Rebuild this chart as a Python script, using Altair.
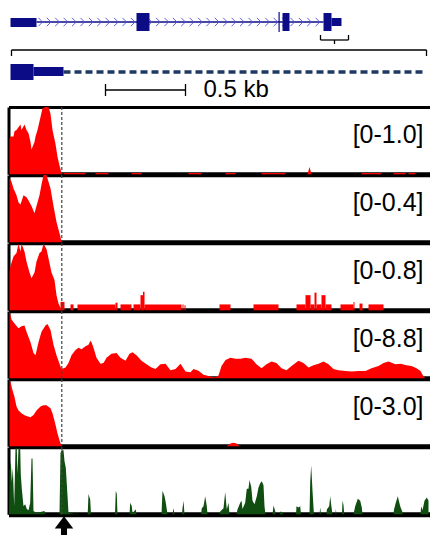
import altair as alt
import pandas as pd

# ---------------- data (x = bin index, 1 bin ~ 6.25 bp; 80 bins = 0.5 kb) ----------------
tss_pos = [53.3]
arrow_pos = [55.5]

# gene model (overview) + zoomed model, rows in pixel-like units (0 = top)
exon_start = [2, 128, 270, 274, 315, 323, 2, 25]
exon_end = [28, 141, 271.2, 281, 323, 333, 25, 55]
exon_top = [18, 13, 12, 13, 13, 18, 64, 67]
exon_bottom = [27, 31, 32, 31, 31, 26, 80, 76]
intron_start = [28]
intron_end = [315]
intron_row = [22]

seg_x1 = [312, 312, 340, 326, 3, 3, 418, 97, 97, 177]
seg_x2 = [340, 312, 340, 326, 418, 3, 418, 177, 97, 177]
seg_y1 = [40, 35, 35, 40, 50, 50, 50, 90, 84, 84]
seg_y2 = [40, 40, 40, 44, 50, 56, 56, 90, 96, 96]

dash_start = [55]
dash_end = [418]
dash_row = [72]
scale_label = ["0.5 kb"]
scale_label_pos = [195]
scale_label_row = [97]

# track 1 [0-1.0]
t1_pos = [1, 2, 5, 6, 8, 12, 13, 16, 18, 20, 22, 23, 26, 27, 29, 32, 34, 37, 40, 42, 44, 47, 49, 51, 53, 54,
          299, 301, 303]
t1_val = [0.53, 0.56, 0.56, 0.64, 0.66, 0.74, 0.66, 0.74, 0.66, 0.61, 0.48, 0.37, 0.48, 0.56, 0.66, 0.85, 0.98,
          1.0, 1.0, 0.9, 0.66, 0.45, 0.26, 0.13, 0.02, 0, 0, 0.11, 0]
t1_bs = [55, 87, 123, 180, 217, 253, 353, 385, 400]
t1_be = [77, 100, 133, 193, 227, 277, 373, 397, 407]
t1_bv = [0.02] * 9

# track 2 [0-0.4]
t2_pos = [1, 3, 5, 8, 10, 12, 15, 18, 20, 23, 26, 28, 31, 33, 35, 38, 42, 45, 48, 52, 53]
t2_val = [0.38, 0.36, 0.32, 0.28, 0.236, 0.224, 0.28, 0.268, 0.248, 0.216, 0.172, 0.216, 0.28, 0.344, 0.4, 0.4,
          0.32, 0.216, 0.12, 0.032, 0]

# track 3 [0-0.8]
t3_pos = [1, 2, 5, 8, 10, 12, 13, 16, 18, 21, 23, 26, 28, 31, 33, 35, 38, 40, 43, 46, 48, 50, 52, 53]
t3_val = [0.46, 0.53, 0.64, 0.68, 0.79, 0.70, 0.79, 0.70, 0.58, 0.45, 0.38, 0.45, 0.58, 0.68, 0.70, 0.79, 0.73,
          0.62, 0.45, 0.36, 0.18, 0.08, 0.03, 0]
t3_bs = [52, 62, 69, 107, 112, 125, 132, 134.5, 136, 174, 176, 211, 245, 288, 297, 302, 306, 308, 313, 317, 332,
         345, 351, 360]
t3_be = [56, 65, 107, 109, 123, 132, 135, 136, 173, 175, 177, 222, 270, 297, 302, 306, 308, 313, 317, 323, 345,
         346, 354, 375]
t3_bv = [0.10, 0.07, 0.07, 0.09, 0.07, 0.07, 0.18, 0.22, 0.07, 0.07, 0.06, 0.07, 0.07, 0.07, 0.18, 0.07, 0.21,
         0.07, 0.18, 0.07, 0.07, 0.10, 0.08, 0.07]

# track 4 [0-8.8]
t4_pos = [1, 3, 7, 10, 13, 16, 18, 22, 25, 27, 30, 33, 37, 39, 42, 45, 48, 51, 53, 57, 60, 63, 67, 70, 73, 77,
          80, 82, 83, 85, 88, 92, 95, 98, 103, 108, 112, 117, 121, 124, 128, 133, 138, 143, 147, 152, 157, 162,
          167, 172, 177, 182, 185, 190, 195, 202, 207, 210, 213, 217, 222, 227, 232, 237, 243, 248, 253, 258,
          263, 268, 273, 278, 283, 290, 295, 300, 305, 310, 315, 320, 325, 330, 337, 343, 350, 357, 363, 370,
          375, 380, 387, 392, 398, 403, 408, 412, 415, 417]
t4_val = [8.8, 7.7, 7.0, 6.55, 6.8, 6.9, 6.1, 4.7, 3.3, 3.0, 4.7, 6.1, 6.9, 7.1, 6.3, 4.4, 3.0, 1.9, 1.2, 1.4,
          2.0, 3.0, 3.7, 4.0, 3.8, 4.2, 4.4, 4.9, 4.7, 4.0, 2.7, 1.9, 2.0, 2.7, 3.2, 3.3, 2.7, 2.3, 3.2, 3.4, 3.0,
          2.3, 1.85, 1.4, 1.2, 1.85, 1.9, 1.05, 1.2, 1.9, 0.9, 0.8, 1.2, 1.0, 0.45, 0.25, 0.1, 0.35, 1.6, 2.4,
          2.7, 2.55, 2.55, 2.7, 2.55, 1.85, 1.3, 1.85, 2.2, 2.0, 1.3, 1.05, 1.6, 2.3, 2.0, 1.4, 1.7, 1.9, 2.2,
          1.85, 1.2, 1.05, 0.95, 0.9, 0.95, 0.95, 1.3, 1.6, 2.0, 2.2, 1.85, 1.9, 1.7, 1.6, 1.3, 0.95, 0.25, 0]

# track 5 [0-3.0]
t5_pos = [1, 2, 4, 6, 8, 10, 13, 16, 18, 22, 25, 28, 32, 35, 38, 42, 44, 47, 49, 51, 53,
          218, 222, 225, 228, 231]
t5_val = [2.97, 2.85, 2.5, 2.2, 1.77, 1.6, 1.47, 1.38, 1.35, 1.3, 1.4, 1.6, 1.77, 1.83, 1.83, 1.7, 1.47, 0.96,
          0.57, 0.27, 0, 0, 0.12, 0.16, 0.12, 0]

# track 6 (green, conservation-like)
t6_pos = [0.5, 1, 2.3, 3.3, 4.3, 5.7, 7, 8.3, 9, 10, 11.7, 12.3, 13.3, 15, 16.7, 18.3, 20, 21.7, 23, 24, 25, 28,
          36, 37, 51, 52, 53, 55, 56, 57.3, 58.5, 59.3, 60, 68, 68.3, 69, 79, 79.3, 80, 81.7, 82.5,
          106.5, 107.3, 108.3, 109, 121, 121.7, 123.3, 124, 127.3, 128, 153, 154, 156, 157.3, 158.3, 159,
          164, 165, 166, 173.5, 174, 175, 176, 192.5, 193.3, 195, 196.7, 198.3, 199,
          211, 211.7, 215, 216.7, 218.3, 220, 221, 228, 229, 231.7, 233, 234, 236.7, 238.3, 240, 241, 242.7,
          244, 246, 248.3, 250, 251.7, 253.3, 255, 256, 257, 264, 265, 266.7, 267, 271, 272, 274, 275,
          287.5, 288, 290, 291.7, 292.5, 301, 301.7, 302.7, 304, 305, 305.5, 311, 311.7, 312.5,
          318, 318.3, 320.7, 321.7, 323.3, 324, 327, 327.3, 328, 333.5, 334, 335, 335.7,
          345, 346.7, 349.3, 351.7, 353.3, 354, 385, 385.5, 387.3, 389.3, 391.7, 394, 394.5,
          412, 412.7, 414, 416, 418.3, 420]
t6_val = [0, 0.64, 0.80, 0.48, 0.69, 0.12, 0.98, 0.98, 0.6, 0.98, 0.98, 0.59, 0.38, 0.12, 0.15, 0.08, 0.06, 0.17,
          0.83, 0.83, 0.05, 0.02, 0.05, 0, 0, 0.91, 0.95, 0.95, 0.79, 0.69, 0.4, 0.2, 0.02, 0, 0.04, 0, 0, 0.04,
          0.30, 0.22, 0, 0, 0.35, 0.30, 0, 0, 0.17, 0.12, 0.02, 0.07, 0, 0, 0.35, 0.27, 0.17, 0.07, 0,
          0, 0.09, 0, 0, 0.09, 0.2, 0, 0, 0.09, 0.12, 0.27, 0.12, 0,
          0, 0.04, 0.09, 0.33, 0.07, 0.17, 0, 0, 0.07, 0.17, 0.2, 0.08, 0.17, 0.38, 0.38, 0.51, 0.41,
          0.2, 0.15, 0.27, 0.40, 0.46, 0.49, 0.43, 0.12, 0, 0, 0.13, 0.05, 0, 0, 0.04, 0.03, 0,
          0, 0.12, 0.1, 0.12, 0, 0, 0.48, 0.73, 0.35, 0.1, 0, 0, 0.1, 0,
          0, 0.07, 0.12, 0.27, 0.07, 0, 0, 0.08, 0, 0, 0.2, 0.14, 0,
          0, 0.12, 0.23, 0.2, 0.1, 0, 0, 0.07, 0.17, 0.27, 0.12, 0.03, 0,
          0, 0.12, 0.06, 0.2, 0.25, 0.2]

# ---------------- styling ----------------
W = 421
GENE_H = 107
TRACK_H = 67.3
ARROW_H = 24
RED = "#ff0000"
GREEN = "#104d10"
NAVY = "#0c0c86"
FONT = "Liberation Sans"

XS = alt.Scale(domain=[0, W], nice=False, zero=False)
XAX = alt.Axis(labels=False, ticks=False, grid=False, title=None, domainColor="black", domainWidth=5)
YAX = alt.Axis(labels=False, ticks=False, grid=False, title=None, domainColor="black", domainWidth=3)
GXAX = alt.Axis(labels=False, ticks=False, grid=False, title=None, domainColor="black", domainWidth=3)

# ---------------- gene panel ----------------
GYS = alt.Scale(domain=[0, GENE_H], reverse=True, nice=False, zero=False)

intron = alt.Chart(pd.DataFrame({"s": intron_start, "e": intron_end, "r": intron_row})).mark_rule(
    color=NAVY, strokeWidth=1.5).encode(
    x=alt.X("s:Q", scale=XS, axis=GXAX), x2="e:Q", y=alt.Y("r:Q", scale=GYS, axis=None))

chev = alt.Chart(alt.sequence(32, 314, 8.4, as_="pos")).mark_point(
    shape="M-0.5,-1L0.5,0L-0.5,1", filled=False, size=70, strokeWidth=1, color="#5050e0", opacity=0.9).encode(
    x=alt.X("pos:Q", scale=XS, axis=GXAX), y=alt.Y(datum=22, scale=GYS, axis=None))

exons = alt.Chart(pd.DataFrame({"s": exon_start, "e": exon_end, "t": exon_top, "b": exon_bottom})).mark_rect(
    color=NAVY).encode(
    x=alt.X("s:Q", scale=XS, axis=GXAX), x2="e:Q",
    y=alt.Y("t:Q", scale=GYS, axis=None), y2="b:Q")

segs = alt.Chart(pd.DataFrame({"x1": seg_x1, "x2": seg_x2, "y1": seg_y1, "y2": seg_y2})).mark_rule(
    color="black", strokeWidth=1.3).encode(
    x=alt.X("x1:Q", scale=XS, axis=GXAX), x2="x2:Q",
    y=alt.Y("y1:Q", scale=GYS, axis=None), y2="y2:Q")

dashed = alt.Chart(pd.DataFrame({"s": dash_start, "e": dash_end, "r": dash_row})).mark_rule(
    color="#203864", strokeWidth=3.5, strokeDash=[7, 4]).encode(
    x=alt.X("s:Q", scale=XS, axis=GXAX), x2="e:Q", y=alt.Y("r:Q", scale=GYS, axis=None))

sc_text = alt.Chart(pd.DataFrame({"t": scale_label, "p": scale_label_pos, "r": scale_label_row})).mark_text(
    align="left", baseline="alphabetic", fontSize=24, font=FONT, color="black").encode(
    x=alt.X("p:Q", scale=XS, axis=GXAX), y=alt.Y("r:Q", scale=GYS, axis=None), text="t:N")

gene_panel = alt.layer(intron, chev, exons, segs, dashed, sc_text).properties(width=W, height=GENE_H)


# ---------------- tracks ----------------
def track(pos, val, ymax, label, color, bs=None, be=None, bv=None):
    ys = alt.Scale(domain=[0, ymax], nice=False, zero=True)
    layers = []
    area = alt.Chart(pd.DataFrame({"pos": pos, "val": val})).mark_area(
        color=color, interpolate="linear").encode(
        x=alt.X("pos:Q", scale=XS, axis=XAX), y=alt.Y("val:Q", scale=ys, axis=YAX))
    layers.append(area)
    if bs is not None:
        blocks = alt.Chart(pd.DataFrame({"s": bs, "e": be, "v": bv})).mark_rect(color=color).encode(
            x=alt.X("s:Q", scale=XS, axis=XAX), x2="e:Q",
            y=alt.Y("v:Q", scale=ys, axis=YAX), y2=alt.Y2(datum=0))
        layers.append(blocks)
    tss = alt.Chart(pd.DataFrame({"pos": tss_pos})).mark_rule(
        color="#444444", strokeWidth=1.2, strokeDash=[3, 2]).encode(
        x=alt.X("pos:Q", scale=XS, axis=XAX))
    layers.append(tss)
    if label:
        txt = alt.Chart(pd.DataFrame({"t": [label]})).mark_text(
            align="right", baseline="alphabetic", fontSize=25, font=FONT, color="black").encode(
            text="t:N", x=alt.value(415), y=alt.value(36))
        layers.append(txt)
    return alt.layer(*layers).properties(width=W, height=TRACK_H)


tr1 = track(t1_pos, t1_val, 1.0, "[0-1.0]", RED, t1_bs, t1_be, t1_bv)
tr2 = track(t2_pos, t2_val, 0.4, "[0-0.4]", RED)
tr3 = track(t3_pos, t3_val, 0.8, "[0-0.8]", RED, t3_bs, t3_be, t3_bv)
tr4 = track(t4_pos, t4_val, 8.8, "[0-8.8]", RED)
tr5 = track(t5_pos, t5_val, 3.0, "[0-3.0]", RED)
tr6 = track(t6_pos, t6_val, 1.0, None, GREEN)

arrow = alt.Chart(pd.DataFrame({"pos": arrow_pos})).mark_point(
    shape="M0,-1L0.67,-0.1L0.22,-0.1L0.22,1L-0.22,1L-0.22,-0.1L-0.67,-0.1Z",
    filled=True, size=760, color="black", opacity=1).encode(
    x=alt.X("pos:Q", scale=XS, axis=None), y=alt.value(15)).properties(width=W, height=ARROW_H)

chart = alt.vconcat(gene_panel, tr1, tr2, tr3, tr4, tr5, tr6, arrow, spacing=0, bounds="flush").properties(
    padding={"left": 8.5, "right": 0, "top": 0, "bottom": 0}, background="white"
).configure_view(stroke=None)

chart.save("out.html", embed_options={"renderer": "svg", "actions": False})
